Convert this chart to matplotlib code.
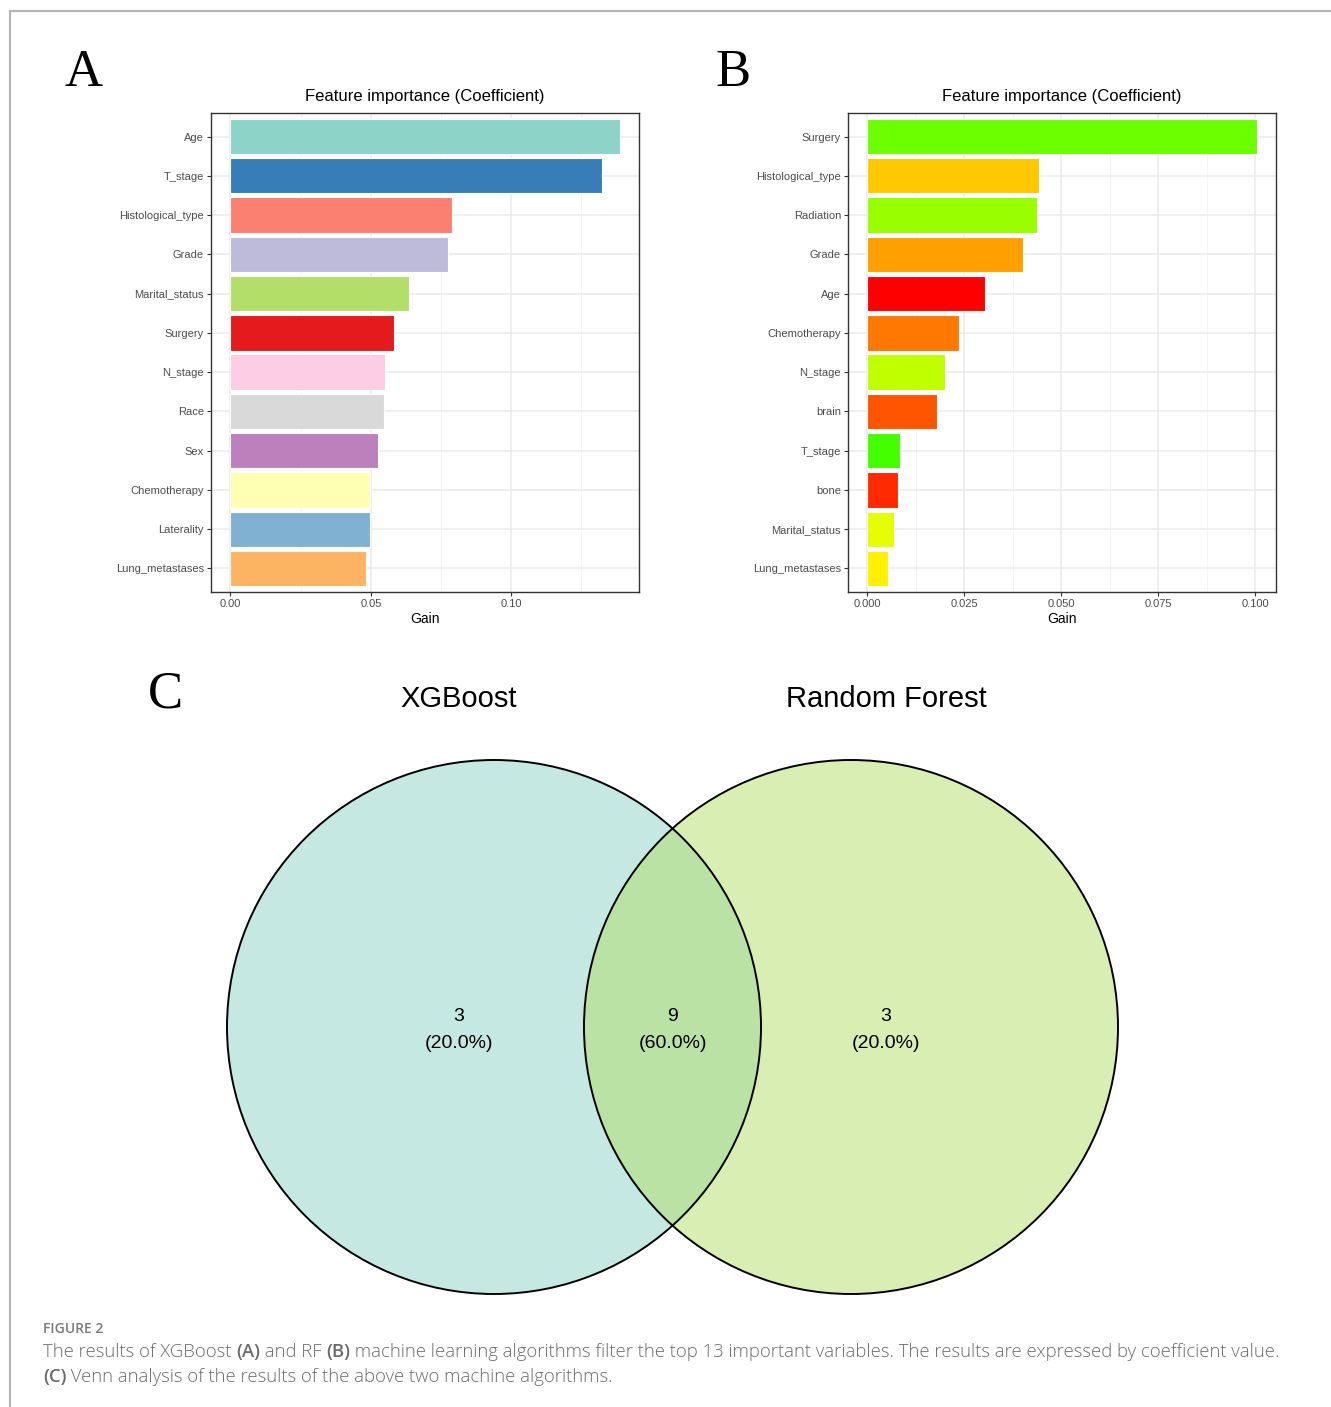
import numpy as np
import matplotlib
matplotlib.use("Agg")
import matplotlib.pyplot as plt
from matplotlib.patches import Circle
from matplotlib.ticker import FixedLocator

plt.rcParams['font.family'] = ['Liberation Sans', 'DejaVu Sans']

# --- data -------------------------------------------------------------
xgb_features = ["Age", "T_stage", "Histological_type", "Grade", "Marital_status",
                "Surgery", "N_stage", "Race", "Sex", "Chemotherapy", "Laterality",
                "Lung_metastases"]
xgb_gain = [0.1386, 0.1323, 0.0790, 0.0775, 0.0635, 0.0581, 0.0551, 0.0546,
            0.0527, 0.0497, 0.0497, 0.0482]
xgb_colors = ["#8DD3C7", "#377EB8", "#FB8072", "#BEBADA", "#B3DE69", "#E41A1C",
              "#FCCDE5", "#D9D9D9", "#BC80BD", "#FFFFB3", "#80B1D3", "#FDB462"]

rf_features = ["Surgery", "Histological_type", "Radiation", "Grade", "Age",
               "Chemotherapy", "N_stage", "brain", "T_stage", "bone",
               "Marital_status", "Lung_metastases"]
rf_gain = [0.1004, 0.0443, 0.0438, 0.0402, 0.0303, 0.0237, 0.0200, 0.0179,
           0.0084, 0.0080, 0.0069, 0.0053]
rf_colors = ["#6CFF00", "#FFC800", "#99FF00", "#FFA000", "#FF0000", "#FF7800",
             "#BFFF00", "#FF5500", "#44FF00", "#FF2A00", "#E5FF00", "#FFF000"]

venn_names = ["XGBoost", "Random Forest"]
venn_counts = [3, 9, 3]          # XGBoost only, both, RF only
venn_colors = ["#8DD3C7", "#B3DE69"]

W, H = 1331, 1407
fig = plt.figure(figsize=(W / 100, H / 100), dpi=100)


def importance_panel(rect, features, gain, colors, major, minor, fmt):
    ax = fig.add_axes(rect)
    n = len(features)
    y = np.arange(n)
    ax.barh(y, gain, height=0.9, color=colors, edgecolor="white", linewidth=0.8, zorder=3)
    top = max(gain)
    ax.set_xlim(-0.05 * top, 1.05 * top)
    ax.set_ylim(n - 1 + 0.6, -0.6)
    ax.set_yticks(y)
    ax.set_yticklabels(features)
    ax.xaxis.set_major_locator(FixedLocator(major))
    ax.xaxis.set_minor_locator(FixedLocator(minor))
    ax.set_xticklabels([fmt.format(v) for v in major])
    ax.grid(True, which="major", color="#EBEBEB", linewidth=1.1, zorder=0)
    ax.grid(True, which="minor", axis="x", color="#F2F2F2", linewidth=0.6, zorder=0)
    ax.set_axisbelow(True)
    for s in ax.spines.values():
        s.set_color("#333333")
        s.set_linewidth(1.0)
    ax.tick_params(which="major", length=3, width=0.8, color="#333333",
                   labelsize=8, labelcolor="#4D4D4D", pad=2)
    ax.tick_params(which="minor", length=0)
    ax.set_xlabel("Gain", fontsize=10, labelpad=2.5)
    ax.set_title("Feature importance (Coefficient)", fontsize=12, pad=8.5)
    return ax


importance_panel([211 / W, 1 - 592 / H, 428 / W, 479 / H], xgb_features, xgb_gain,
                 xgb_colors, [0, 0.05, 0.10], [0.025, 0.075, 0.125], "{:.2f}")
importance_panel([848 / W, 1 - 592 / H, 428 / W, 479 / H], rf_features, rf_gain,
                 rf_colors, [0, 0.025, 0.05, 0.075, 0.10],
                 [0.0125, 0.0375, 0.0625, 0.0875], "{:.3f}")

# overlay in pixel units for the venn diagram, letters and caption
ov = fig.add_axes([0, 0, 1, 1], zorder=-1)
ov.set_xlim(0, W)
ov.set_ylim(H, 0)
ov.axis("off")

# frame
ov.plot([10, W], [11, 11], color="#B5B5B5", lw=1.5)
ov.plot([10, 10], [11, H], color="#B5B5B5", lw=1.5)

for letter, (px, py) in zip("ABC", [(84, 86), (733, 86), (165, 708)]):
    ov.text(px, py, letter, family="Liberation Serif", fontsize=38,
            ha="center", va="baseline")

# venn
r = 267
cx = [494, 851]
cy = 1027
for x, c in zip(cx, venn_colors):
    ov.add_patch(Circle((x, cy), r, facecolor=c, alpha=0.5, edgecolor="none"))
for x in cx:
    ov.add_patch(Circle((x, cy), r, facecolor="none", edgecolor="black", lw=1.4))

total = sum(venn_counts)
label_x = [cx[0] - 35, (cx[0] + cx[1]) / 2, cx[1] + 35]
for x, cnt in zip(label_x, venn_counts):
    ov.text(x, cy + 3, f"{cnt}\n({cnt / total * 100:.1f}%)", fontsize=14,
            ha="center", va="center", linespacing=1.8)
ov.text(459, 699, venn_names[0], fontsize=21, ha="center", va="center")
ov.text(886, 699, venn_names[1], fontsize=21, ha="center", va="center")

# caption
cap_font = ["Open Sans", "DejaVu Sans"]
ov.text(43, 1329, "FIGURE 2", family=cap_font, fontsize=10, fontweight="semibold",
        color="#7A7A7A", va="center")
renderer = fig.canvas.get_renderer()


def rich_line(x, y, parts):
    for txt, bold in parts:
        t = ov.text(x, y, txt, family=cap_font, fontsize=13.3, color="#6B6B6B",
                    fontweight="semibold" if bold else "light", va="baseline")
        bb = t.get_window_extent(renderer)
        x += bb.width


rich_line(43, 1357, [("The results of XGBoost ", False), ("(A)", True),
                     (" and RF ", False), ("(B)", True),
                     (" machine learning algorithms filter the top 13 important variables."
                      " The results are expressed by coefficient value.", False)])
rich_line(43, 1382, [("(C)", True), (" Venn analysis of the results of the above two"
                                      " machine algorithms.", False)])

fig.savefig("out.png", dpi=100)
